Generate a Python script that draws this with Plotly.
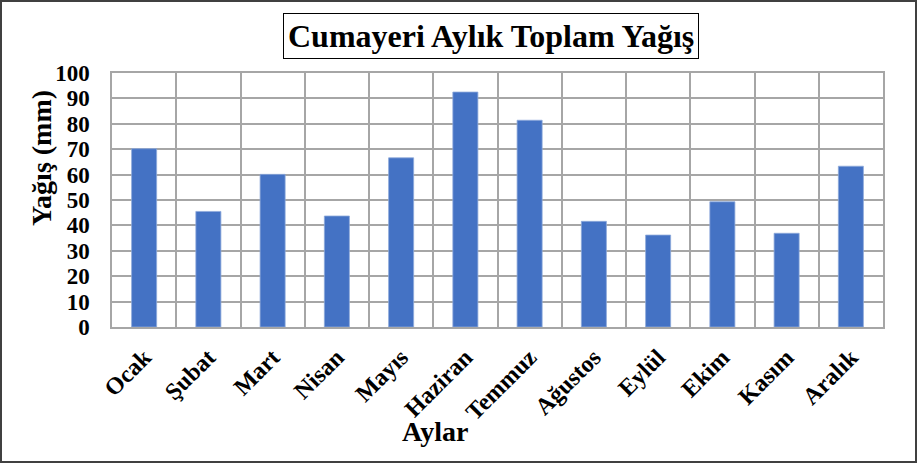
import plotly.graph_objects as go

months = ["Ocak", "Şubat", "Mart", "Nisan", "Mayıs", "Haziran", "Temmuz",
          "Ağustos", "Eylül", "Ekim", "Kasım", "Aralık"]
rain_mm = [70.2, 45.5, 60.1, 43.7, 66.6, 92.5, 81.4, 41.6, 36.2, 49.3, 36.9, 63.3]
y_ticks = [0, 10, 20, 30, 40, 50, 60, 70, 80, 90, 100]

title_text = "Cumayeri Aylık Toplam Yağış"
y_title = "Yağış (mm)"
x_title = "Aylar"

W, H = 917, 464
ML, MR, MT, MB = 112, 34, 73, 137
PW = W - ML - MR
PH = H - MT - MB

def px(x):
    return (x - ML) / PW

def py(y):
    return (H - MB - y) / PH

FONT = "Liberation Serif, Times New Roman, serif"
GRID = "#A6A6A6"

fig = go.Figure(go.Bar(
    x=months, y=rain_mm,
    marker=dict(color="#4472C4", line=dict(color="#8EA9DB", width=0.8)),
    hoverinfo="skip",
))

fig.update_layout(
    width=W, height=H,
    margin=dict(l=ML, r=MR, t=MT, b=MB),
    paper_bgcolor="white", plot_bgcolor="white",
    bargap=0.61,
    showlegend=False,
    font=dict(family=FONT, color="black"),
)

fig.update_xaxes(
    type="category",
    tickson="boundaries",
    showgrid=True, gridcolor=GRID, gridwidth=1.5,
    showline=True, linecolor=GRID, linewidth=1.5, mirror=True,
    ticks="", tickangle=-45,
    ticklabelstandoff=5,
    tickfont=dict(family=FONT, size=24, color="black", weight="bold"),
)
fig.update_yaxes(
    range=[0, 100], tickvals=y_ticks,
    showgrid=True, gridcolor=GRID, gridwidth=1.5,
    showline=True, linecolor=GRID, linewidth=1.5, mirror=True,
    zeroline=False, ticks="",
    ticklabelstandoff=16,
    tickfont=dict(family=FONT, size=23, color="black", weight="bold"),
)

fig.add_annotation(
    text="<b>" + title_text + "</b>", xref="paper", yref="paper",
    x=px(491), y=py(36), xanchor="center", yanchor="middle", showarrow=False,
    font=dict(family=FONT, size=32, color="black"),
    bordercolor="black", borderwidth=1, borderpad=4, bgcolor="white",
)
fig.add_annotation(
    text="<b>" + y_title + "</b>", xref="paper", yref="paper",
    x=px(41), y=py(158), xanchor="center", yanchor="middle", showarrow=False,
    textangle=-90, font=dict(family=FONT, size=28, color="black"),
)
fig.add_annotation(
    text="<b>" + x_title + "</b>", xref="paper", yref="paper",
    x=px(435), y=py(431), xanchor="center", yanchor="middle", showarrow=False,
    font=dict(family=FONT, size=28, color="black"),
)
fig.add_shape(
    type="rect", xref="paper", yref="paper",
    x0=px(1), x1=px(W - 1), y0=py(1), y1=py(H - 2),
    line=dict(color="#404040", width=2), layer="above",
)

fig.write_html("out.html", config={"displayModeBar": False},
               post_script="document.body.style.margin='0';")
